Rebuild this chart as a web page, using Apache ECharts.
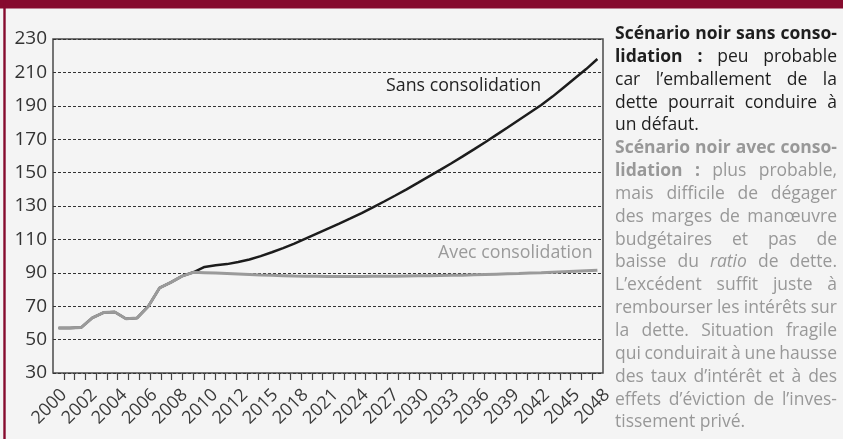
<!DOCTYPE html>
<html>
<head>
<meta charset="utf-8">
<script src="https://cdn.jsdelivr.net/npm/echarts@6/dist/echarts.min.js"></script>
<style>
  html, body { margin: 0; padding: 0; background: #f4f4f4; }
  #chart { width: 843px; height: 439px; }
</style>
</head>
<body>
<div id="chart"></div>
<script>
// years on the category axis, one point per year
var years = [];
for (var y = 2000; y <= 2048; y++) years.push(String(y));

// labels printed under the axis (evenly spread, as in the original)
var tickLabels = ['2000', '2002', '2004', '2006', '2008', '2010', '2012', '2015', '2018', '2021',
                  '2024', '2027', '2030', '2033', '2036', '2039', '2042', '2045', '2048'];

// shared past values 2000-2012
var pastDebt = [57, 57, 57.2, 63, 66.2, 66.5, 62.5, 63, 70, 81, 84.3, 88, 90.3];
// 2013-2048 projections
var sansConso = [93.5, 94.5, 95.2, 96.5, 98, 100, 102.3, 104.8, 107.5, 110.5, 113.5, 116.5,
                 119.5, 122.6, 125.8, 129.2, 132.7, 136.3, 140, 143.8, 147.7, 151.6, 155.6, 159.7,
                 163.9, 168.2, 172.6, 177, 181.5, 186, 190.5, 195.5, 201, 206.5, 212, 218];
var avecConso = [90.1, 89.9, 89.6, 89.3, 89, 88.7, 88.5, 88.3, 88.1, 88, 87.9, 87.8,
                 87.8, 87.8, 87.8, 87.9, 87.9, 88, 88.1, 88.2, 88.3, 88.4, 88.5, 88.6,
                 88.8, 89, 89.2, 89.4, 89.6, 89.9, 90.1, 90.4, 90.7, 91, 91.3, 91.6];

// side text, * = bold word, _ = italic word
var para1 = ['*Scénario *noir *sans *conso-', '*lidation *: peu probable', 'car l’emballement de la',
             'dette pourrait conduire à', 'un défaut.'];
var para2 = ['*Scénario *noir *avec *conso-', '*lidation *: plus probable,', 'mais difficile de dégager',
             'des marges de manœuvre', 'budgétaires et pas de', 'baisse du _ratio de dette.',
             'L’excédent suffit juste à', 'rembourser les intérêts sur', 'la dette. Situation fragile',
             'qui conduirait à une hausse', 'des taux d’intérêt et à des', 'effets d’éviction de l’inves-',
             'tissement privé.'];

var FONT = 'Open Sans';
var FS = 17.5;
var COL_X = 615, COL_W = 222, LINE0 = 34, LINE_H = 22.85;

var ctx = document.createElement('canvas').getContext('2d');
function measure(t, st) {
    ctx.font = (st === 'i' ? 'italic ' : 'normal ') + (st === 'b' ? 'bold ' : 'normal ') + FS + 'px "' + FONT + '"';
    return ctx.measureText(t).width;
}

var graphics = [
    { type: 'rect', shape: { x: 0, y: 0, width: 843, height: 8.5 }, style: { fill: '#860b2e' }, silent: true },
    { type: 'rect', shape: { x: 3.3, y: 0, width: 2.4, height: 439 }, style: { fill: '#860b2e' }, silent: true },
    { type: 'text', x: 386, y: 86, style: { text: 'Sans consolidation', fill: '#222', fontSize: 17.8, fontFamily: FONT, verticalAlign: 'middle' }, silent: true },
    { type: 'text', x: 438, y: 252.5, style: { text: 'Avec consolidation', fill: '#9a9a9a', fontSize: 17.8, fontFamily: FONT, verticalAlign: 'middle' }, silent: true }
];

function addParagraph(lines, color, startRow) {
    lines.forEach(function (line, li) {
        var words = line.split(' ').map(function (w) {
            if (w[0] === '*') return { t: w.slice(1), st: 'b' };
            if (w[0] === '_') return { t: w.slice(1), st: 'i' };
            return { t: w, st: 'n' };
        });
        var widths = words.map(function (w) { return measure(w.t, w.st); });
        var total = widths.reduce(function (a, b) { return a + b; }, 0);
        var last = li === lines.length - 1;
        var gap = (!last && words.length > 1) ? (COL_W - total) / (words.length - 1) : measure(' ', 'n');
        var x = COL_X;
        var yy = LINE0 + (startRow + li) * LINE_H;
        words.forEach(function (w, wi) {
            graphics.push({
                type: 'text', x: x, y: yy, silent: true,
                style: {
                    text: w.t, fill: color, fontSize: FS, fontFamily: FONT,
                    fontWeight: w.st === 'b' ? 'bold' : 'normal',
                    fontStyle: w.st === 'i' ? 'italic' : 'normal',
                    verticalAlign: 'middle', align: 'left'
                }
            });
            x += widths[wi] + gap;
        });
    });
}
addParagraph(para1, '#1e1e1e', 0);
addParagraph(para2, '#989898', para1.length);

var blanks = [];
for (var i = 0; i < 52; i++) blanks.push('');

var myChart = echarts.init(document.getElementById('chart'));
var option = {
    backgroundColor: '#f4f4f4',
    animation: false,
    textStyle: { fontFamily: FONT },
    grid: [
        { left: 53, width: 550, top: 39, height: 334, show: true, borderColor: '#4a4a4a', borderWidth: 1.5, backgroundColor: 'transparent' },
        { left: 64, width: 543, top: 39, height: 334, show: false }
    ],
    xAxis: [
        {
            type: 'category', gridIndex: 0, data: years, boundaryGap: true,
            axisLine: { show: false }, axisTick: { show: false }, axisLabel: { show: false }
        },
        {
            type: 'category', gridIndex: 0, data: blanks, boundaryGap: false, position: 'bottom',
            axisLine: { show: false },
            axisTick: { show: true, length: 7, interval: function (idx) { return idx > 0 && idx < 51; }, lineStyle: { color: '#444', width: 1.2 } },
            axisLabel: { show: false }
        },
        {
            type: 'category', gridIndex: 1, data: tickLabels, boundaryGap: false,
            axisLine: { show: false }, axisTick: { show: false },
            axisLabel: { interval: 0, rotate: 45, margin: 19, fontSize: 18, color: '#3a3a3a' }
        }
    ],
    yAxis: [
        {
            type: 'value', gridIndex: 0, min: 30, max: 230, interval: 20,
            axisLine: { show: false }, axisTick: { show: false },
            axisLabel: { fontSize: 19, color: '#333', margin: 6 },
            splitLine: { show: true, lineStyle: { color: '#333', width: 1, type: [3, 2] } }
        },
        { type: 'value', gridIndex: 1, show: false, min: 0, max: 1 }
    ],
    series: [
        {
            name: 'Sans consolidation', type: 'line', xAxisIndex: 0, yAxisIndex: 0,
            data: pastDebt.concat(sansConso), symbol: 'none',
            lineStyle: { color: '#1c1c1c', width: 2.5 }
        },
        {
            name: 'Avec consolidation', type: 'line', xAxisIndex: 0, yAxisIndex: 0,
            data: pastDebt.concat(avecConso), symbol: 'none',
            lineStyle: { color: '#9a9a9a', width: 3 }
        }
    ],
    graphic: graphics
};
myChart.setOption(option, true);
</script>
</body>
</html>
